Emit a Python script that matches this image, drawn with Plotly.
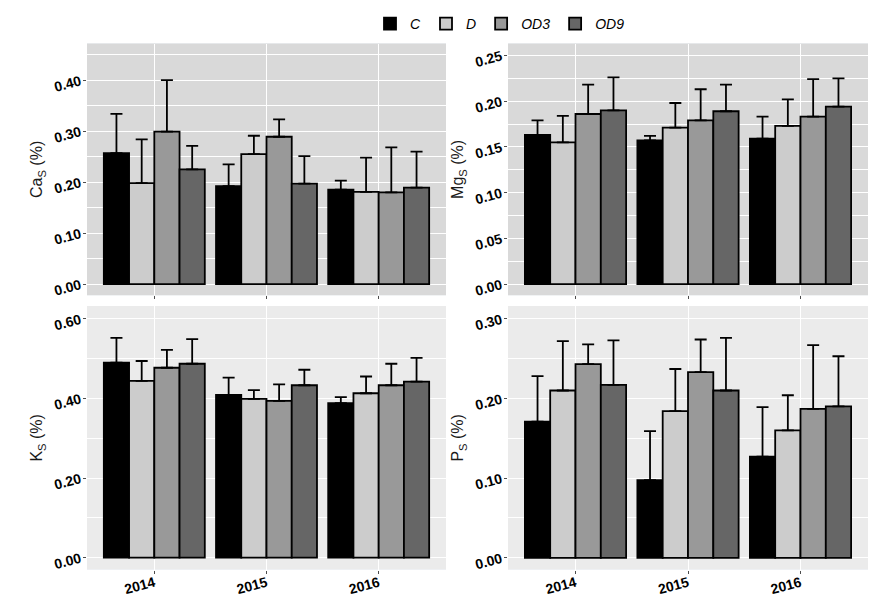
import plotly.graph_objects as go

years = ["2014", "2015", "2016"]
treatments = ["C", "D", "OD3", "OD9"]
colors = ["#000000", "#cccccc", "#999999", "#666666"]

# Means (per treatment, across years) and upper error-bar tops
ca_mean = {"C": [0.257, 0.192, 0.185], "D": [0.198, 0.255, 0.181],
           "OD3": [0.299, 0.289, 0.180], "OD9": [0.225, 0.197, 0.189]}
ca_top = {"C": [0.334, 0.235, 0.203], "D": [0.284, 0.291, 0.248],
          "OD3": [0.400, 0.323, 0.268], "OD9": [0.271, 0.251, 0.260]}

mg_mean = {"C": [0.163, 0.157, 0.159], "D": [0.155, 0.171, 0.173],
           "OD3": [0.186, 0.179, 0.183], "OD9": [0.190, 0.189, 0.194]}
mg_top = {"C": [0.179, 0.162, 0.183], "D": [0.184, 0.198, 0.202],
          "OD3": [0.218, 0.213, 0.224], "OD9": [0.226, 0.218, 0.225]}

k_mean = {"C": [0.490, 0.409, 0.388], "D": [0.444, 0.399, 0.413],
          "OD3": [0.477, 0.394, 0.433], "OD9": [0.487, 0.433, 0.442]}
k_top = {"C": [0.552, 0.452, 0.403], "D": [0.494, 0.421, 0.455],
         "OD3": [0.522, 0.435, 0.487], "OD9": [0.549, 0.472, 0.502]}

p_mean = {"C": [0.171, 0.0975, 0.127], "D": [0.210, 0.184, 0.160],
          "OD3": [0.243, 0.233, 0.187], "OD9": [0.217, 0.210, 0.190]}
p_top = {"C": [0.228, 0.159, 0.189], "D": [0.272, 0.237, 0.204],
         "OD3": [0.268, 0.274, 0.267], "OD9": [0.273, 0.276, 0.253]}

panels = [
    (ca_mean, ca_top, "x", "y", "Ca<sub>S</sub> (%)", [-0.022, 0.472], 0.10, "#d9d9d9"),
    (mg_mean, mg_top, "x2", "y2", "Mg<sub>S</sub> (%)", [-0.0121, 0.263], 0.05, "#d9d9d9"),
    (k_mean, k_top, "x3", "y3", "K<sub>S</sub> (%)", [-0.030, 0.632], 0.20, "#ebebeb"),
    (p_mean, p_top, "x4", "y4", "P<sub>S</sub> (%)", [-0.0148, 0.316], 0.10, "#ebebeb"),
]

fig = go.Figure()
for pi, (mean, top, xa, ya, title, rng, dt, bg) in enumerate(panels):
    for ti, t in enumerate(treatments):
        err = [tp - m for tp, m in zip(top[t], mean[t])]
        fig.add_trace(go.Bar(
            x=years, y=mean[t], name=t, xaxis=xa, yaxis=ya,
            marker=dict(color=colors[ti], line=dict(color="#000000", width=1.8)),
            error_y=dict(type="data", array=err, arrayminus=[0, 0, 0], symmetric=False,
                         color="#000000", thickness=1.8, width=6),
            showlegend=(pi == 0), legendgroup=t,
        ))

# page body has an 8px margin, so the figure is sized and placed to compensate
W, H = 870, 598
def xd(a, b):
    return [(a - 8) / W, (b - 8) / W]
def yd(top_px, bot_px):
    return [1 - (bot_px - 8) / H, 1 - (top_px - 8) / H]

xdom = [xd(87, 446), xd(508, 868)]
ydom = [yd(37, 293), yd(304, 572)]
tickfont = dict(family="Liberation Sans, Arial, sans-serif", size=14, color="#000000", weight="bold")

layout = dict(
    width=W, height=H,
    margin=dict(l=0, r=0, t=0, b=0),
    paper_bgcolor="#ffffff",
    barmode="group", bargap=0.1, bargroupgap=0,
    font=dict(family="Liberation Sans, Arial, sans-serif", color="#000000"),
    legend=dict(orientation="h", x=(500 - 8) / W, xanchor="center",
                y=1 - (17 - 8) / H, yanchor="middle",
                font=dict(size=14, style="italic", color="#000000"),
                itemwidth=30, traceorder="normal", tracegroupgap=0),
)
for pi, (mean, top, xa, ya, title, rng, dt, bg) in enumerate(panels):
    row, col = pi // 2, pi % 2
    xkey = "xaxis" + ("" if pi == 0 else str(pi + 1))
    ykey = "yaxis" + ("" if pi == 0 else str(pi + 1))
    layout[xkey] = dict(
        domain=xdom[col], anchor=ya, type="category", range=[-0.6, 2.6],
        showgrid=True, gridcolor="#ffffff", gridwidth=1.2,
        ticks="outside", ticklen=3, tickcolor="#4d4d4d",
        showticklabels=(row == 1), tickangle=-15, tickfont=tickfont,
        ticklabelstandoff=-4,
        showline=False, zeroline=False,
    )
    layout[ykey] = dict(
        domain=ydom[row], anchor=xa, range=rng, dtick=dt, tick0=0,
        tickformat=".2f", showgrid=True, gridcolor="#ffffff", gridwidth=1.2,
        minor=dict(dtick=dt / 2, showgrid=True, gridcolor="#ffffff", gridwidth=0.6),
        ticks="outside", ticklen=3, tickcolor="#4d4d4d",
        tickangle=-15, tickfont=tickfont, zeroline=False, showline=False,
        title=dict(text=title, font=dict(size=16, color="#1a1a1a"), standoff=5),
    )
fig.update_layout(**layout)

shapes = []
for pi, (mean, top, xa, ya, title, rng, dt, bg) in enumerate(panels):
    shapes.append(dict(type="rect", xref=xa + " domain", yref=ya + " domain",
                       x0=0, x1=1, y0=0, y1=1, fillcolor=bg, line=dict(width=0),
                       layer="below"))
fig.update_layout(shapes=shapes)

fig.write_html("out.html")
